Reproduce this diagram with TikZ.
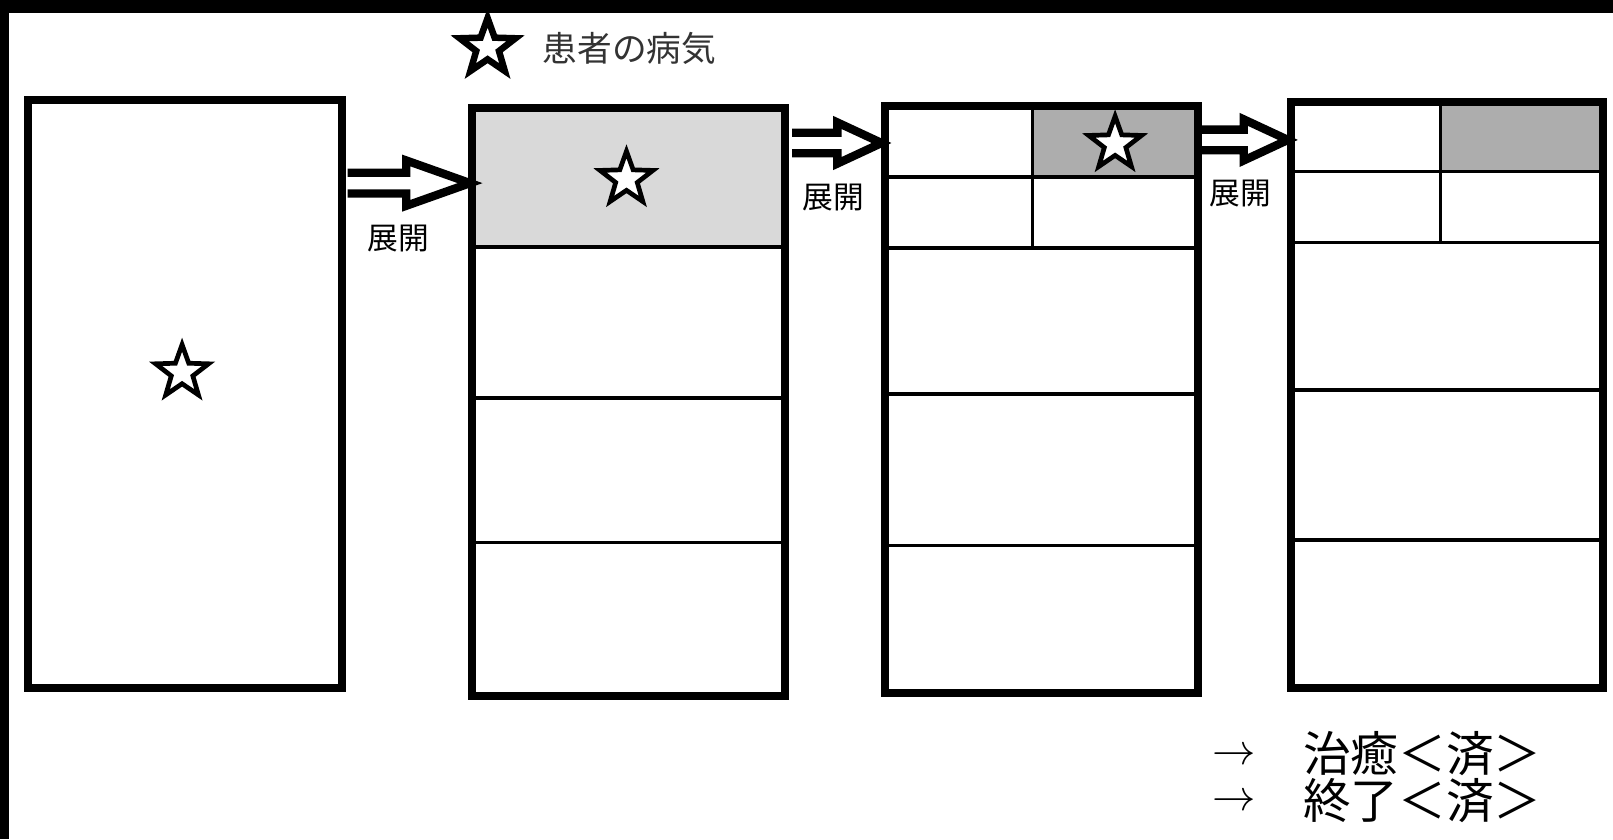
\documentclass[tikz,border=0pt]{standalone}
\usepackage{fontspec}
\newfontfamily\jp{Noto Sans CJK JP}
\usetikzlibrary{shapes.geometric,calc}
\tikzset{
  boxn/.style={draw=black, line width=2.2pt, inner sep=0pt, outer sep=0pt, anchor=north west},
  thinln/.style={draw=black, line width=0.9pt},
  arrowline/.style={draw=black, line width=2.3pt, miter limit=10},
  starn/.style={star, star points=5, star point ratio=2.45, draw=black, fill=white, line width=1.3pt, minimum size=5.4mm, inner sep=0pt},
  lbl/.style={font=\jp\fontsize{8.5}{10}\selectfont, inner sep=0pt},
  bigl/.style={font=\jp\fontsize{13.2}{15}\selectfont, inner sep=0pt, anchor=west},
}
\newcommand\dblarrow[5]{%
  \draw[arrowline] ($(#1)+(0,#3)$) -- ($(#2)+(-#5,#3)$) -- ($(#2)+(-#5,#4)$) -- (#2)
    -- ($(#2)+(-#5,-#4)$) -- ($(#2)+(-#5,-#3)$) -- ($(#1)+(0,-#3)$);}
\begin{document}
\begin{tikzpicture}[x=0.1mm, y=-0.1mm]
\path[use as bounding box] (0,0) rectangle (1568,815.6);
\fill[white] (0,0) rectangle (1568,815.6);
\fill[black] (0,0) rectangle (1568,13);
\fill[black] (0,0) rectangle (9,815.6);

% grey fills
\fill[gray!30] (459,105) rectangle (763,240);
\fill[black!32] (1004,103) rectangle (1165,172);
\fill[black!32] (1400,99) rectangle (1558,167);

% box 1
\node[boxn, minimum width=30.5mm, minimum height=57.2mm] (b1) at (27,97) {};
% box 2
\draw[thinln] (459,240) -- (763,240);
\draw[thinln] (459,387) -- (763,387);
\draw[thinln] (459,527) -- (763,527);
\node[boxn, minimum width=30.4mm, minimum height=57.2mm] (b2) at (459,105) {};
% box 3
\draw[thinln] (860,172) -- (1165,172);
\draw[thinln] (860,241) -- (1165,241);
\draw[thinln] (860,383) -- (1165,383);
\draw[thinln] (860,530) -- (1165,530);
\draw[thinln] (1004,103) -- (1004,241);
\node[boxn, minimum width=30.5mm, minimum height=57.1mm] (b3) at (860,103) {};
% box 4
\draw[thinln] (1255,167) -- (1558,167);
\draw[thinln] (1255,236) -- (1558,236);
\draw[thinln] (1255,379) -- (1558,379);
\draw[thinln] (1255,525) -- (1558,525);
\draw[thinln] (1400,99) -- (1400,236);
\node[boxn, minimum width=30.3mm, minimum height=57mm] (b4) at (1255,99) {};

% stars
\node[starn] (s1) at (177,362) {};
\node[starn] (s2) at (609,174) {};
\node[starn] (s3) at (1084,140) {};

% legend
\node[starn, line width=1.8pt, minimum size=5.7mm] (sl) at (474,46) {};
\node[font=\jp\fontsize{9.6}{11}\selectfont, text=black!80, inner sep=0pt] (lt) at (612,47) {患者の病気};

% arrows
\coordinate (a1s) at (338,178);
\coordinate (a1e) at (457,178);
\dblarrow{a1s}{a1e}{10}{22}{62}
\coordinate (a2s) at (770,139);
\coordinate (a2e) at (857,139);
\dblarrow{a2s}{a2e}{10}{20}{43}
\coordinate (a3s) at (1166,136);
\coordinate (a3e) at (1252,136);
\dblarrow{a3s}{a3e}{10}{20}{43}

\node[lbl] (l1) at (387,232) {展開};
\node[lbl] (l2) at (810,192) {展開};
\node[lbl] (l3) at (1206,188) {展開};

% bottom notes
\node[font=\fontsize{13}{15}\selectfont, inner sep=0pt] (r1) at (1200,735) {$\rightarrow$};
\node[font=\fontsize{13}{15}\selectfont, inner sep=0pt] (r2) at (1200,780) {$\rightarrow$};
\node[bigl] (t1) at (1266,733) {治癒＜済＞};
\node[bigl] (t2) at (1266,778) {終了＜済＞};
\end{tikzpicture}
\end{document}
